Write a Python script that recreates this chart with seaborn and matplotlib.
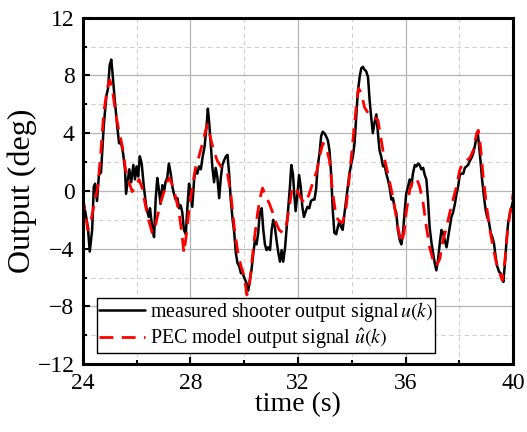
import matplotlib
matplotlib.use("Agg")
import matplotlib.pyplot as plt
import seaborn as sns
from matplotlib.ticker import MultipleLocator

# measured shooter output u(k)
measured_t = [
    24.0, 24.1, 24.19, 24.26, 24.35, 24.41, 24.46, 24.53, 24.6, 24.68, 24.78, 24.88, 24.94,
    25.0, 25.06, 25.1, 25.19, 25.28, 25.35, 25.43, 25.5, 25.57, 25.61, 25.68, 25.73, 25.8,
    25.88, 25.94, 26.0, 26.06, 26.12, 26.19, 26.27, 26.36, 26.45, 26.5, 26.58, 26.65, 26.71,
    26.77, 26.83, 26.89, 26.96, 27.02, 27.08, 27.14, 27.2, 27.27, 27.33, 27.39, 27.45, 27.52,
    27.58, 27.64, 27.7, 27.76, 27.83, 27.89, 27.95, 28.01, 28.07, 28.14, 28.2, 28.26, 28.32,
    28.39, 28.45, 28.53, 28.6, 28.65, 28.7, 28.76, 28.82, 28.88, 28.94, 29.0, 29.07, 29.13,
    29.19, 29.25, 29.32, 29.38, 29.44, 29.5, 29.57, 29.63, 29.69, 29.75, 29.81, 29.88, 29.94,
    30.0, 30.09, 30.15, 30.21, 30.27, 30.34, 30.4, 30.46, 30.52, 30.58, 30.65, 30.71, 30.77,
    30.83, 30.89, 30.96, 31.02, 31.08, 31.14, 31.2, 31.27, 31.33, 31.39, 31.45, 31.52, 31.58,
    31.64, 31.7, 31.75, 31.81, 31.86, 31.91, 31.98, 32.04, 32.1, 32.16, 32.22, 32.29, 32.35,
    32.42, 32.48, 32.55, 32.61, 32.67, 32.73, 32.8, 32.86, 32.92, 32.98, 33.04, 33.11, 33.17,
    33.23, 33.29, 33.35, 33.42, 33.48, 33.54, 33.6, 33.66, 33.73, 33.79, 33.85, 33.91, 33.98,
    34.04, 34.1, 34.16, 34.22, 34.29, 34.35, 34.41, 34.47, 34.53, 34.6, 34.66, 34.72, 34.78,
    34.84, 34.91, 34.97, 35.03, 35.09, 35.16, 35.22, 35.28, 35.34, 35.4, 35.47, 35.53, 35.59,
    35.65, 35.71, 35.78, 35.84, 35.9, 35.96, 36.02, 36.09, 36.15, 36.21, 36.27, 36.34, 36.4,
    36.46, 36.52, 36.58, 36.65, 36.71, 36.77, 36.83, 36.89, 36.96, 37.02, 37.08, 37.14, 37.2,
    37.27, 37.33, 37.39, 37.45, 37.52, 37.58, 37.64, 37.7, 37.76, 37.83, 37.89, 37.95, 38.01,
    38.07, 38.14, 38.2, 38.26, 38.32, 38.39, 38.45, 38.51, 38.57, 38.64, 38.68, 38.72, 38.78,
    38.84, 38.91, 38.97, 39.03, 39.09, 39.16, 39.22, 39.28, 39.34, 39.4, 39.47, 39.53, 39.59,
    39.63, 39.69, 39.75, 39.81, 39.88, 39.94, 40.0,
]
measured_u = [
    -0.6, -1.5, -2.5, -4.2, -2.7, 0.3, 0.5, -0.7, 1.1, 1.3, 4.5, 6.6, 7.1,
    8.7, 9.1, 8.3, 6.3, 4.5, 3.3, 3.3, 2.6, 1.5, -0.2, 0.8, 1.5, 0.6,
    1.8, 0.8, 1.7, 1.0, 2.4, 1.9, 0.3, -1.1, -1.8, -1.2, -2.5, -3.2, -0.6,
    0.9, 0.1, -0.9, 0.4, -0.05, 0.65, 0.9, 1.9, 1.2, 0.3, -0.2, -0.6, -0.5,
    -1.2, -1.0, -1.5, -2.7, -3.0, -1.1, 0.5, -0.2, -1.1, 0.8, 1.5, 1.2, 1.7,
    1.5, 2.3, 3.1, 4.5, 5.7, 4.7, 3.1, 1.6, 0.6, 1.6, 1.0, -0.5, 0.9,
    1.8, 2.1, 2.4, 2.5, 1.2, -0.6, -2.0, -2.9, -4.3, -5.0, -5.2, -5.7, -5.7,
    -6.0, -6.4, -6.9, -6.2, -5.5, -4.3, -3.4, -3.7, -2.9, -1.5, -1.2, -2.7, -3.7,
    -4.1, -3.9, -4.1, -2.7, -2.0, -2.5, -3.4, -4.3, -4.9, -4.1, -4.9, -3.9, -2.5,
    -1.1, 0.3, 1.8, 1.2, -0.2, -1.4, -0.2, 1.1, 0.3, -1.1, -1.8, -1.4, -1.1,
    -1.2, -0.7, -0.6, -0.6, 0.1, 1.7, 2.6, 3.8, 4.1, 4.0, 3.8, 3.5, 2.8,
    1.2, -1.3, -2.9, -3.0, -2.5, -2.1, -2.5, -2.7, -1.5, -0.6, 0.3, 1.2, 1.9,
    2.4, 3.3, 5.1, 6.8, 7.9, 8.5, 8.6, 8.4, 8.3, 7.9, 6.3, 5.1, 4.0,
    4.7, 5.3, 4.0, 2.8, 2.4, 1.7, 1.8, 1.2, 0.8, 0.3, -0.6, -0.5, -1.2,
    -1.5, -2.7, -3.4, -3.7, -2.9, -1.5, -0.2, 0.3, 0.8, 0.3, 1.2, 1.8, 1.7,
    1.9, 1.8, 1.5, 1.6, 1.1, 0.8, -0.6, -2.5, -3.6, -4.3, -5.0, -5.5, -4.8,
    -3.6, -2.7, -2.9, -3.4, -3.9, -3.2, -2.5, -1.8, -1.5, -0.9, -0.2, 0.3, 1.1,
    1.2, 1.2, 1.6, 1.7, 1.8, 2.1, 2.3, 2.6, 3.1, 3.8, 4.0, 3.3, 2.1,
    0.8, -0.4, -1.3, -1.8, -2.1, -2.9, -3.2, -3.6, -4.5, -5.2, -5.6, -5.7, -6.0,
    -6.3, -5.0, -3.4, -2.2, -1.5, -1.1, -0.6,
]

# PEC model output u_hat(k)
model_t = [
    24.0, 24.19, 24.31, 24.43, 24.56, 24.66, 24.78, 24.91, 25.0, 25.09, 25.22, 25.34, 25.47,
    25.59, 25.71, 25.84, 25.96, 26.09, 26.21, 26.34, 26.46, 26.58, 26.67, 26.77, 26.89, 27.02,
    27.14, 27.23, 27.33, 27.45, 27.58, 27.68, 27.76, 27.86, 27.95, 28.07, 28.2, 28.32, 28.45,
    28.57, 28.63, 28.73, 28.88, 29.0, 29.13, 29.25, 29.38, 29.5, 29.63, 29.75, 29.88, 30.0,
    30.1, 30.19, 30.27, 30.37, 30.5, 30.6, 30.68, 30.81, 30.93, 31.06, 31.18, 31.3, 31.43,
    31.55, 31.68, 31.76, 31.86, 31.99, 32.11, 32.24, 32.34, 32.46, 32.58, 32.71, 32.83, 32.92,
    33.04, 33.17, 33.29, 33.42, 33.54, 33.66, 33.79, 33.91, 34.04, 34.16, 34.25, 34.35, 34.47,
    34.6, 34.72, 34.84, 34.97, 35.07, 35.19, 35.34, 35.47, 35.59, 35.71, 35.84, 35.94, 36.02,
    36.15, 36.27, 36.4, 36.52, 36.65, 36.77, 36.89, 37.02, 37.14, 37.27, 37.39, 37.52, 37.64,
    37.76, 37.89, 38.01, 38.14, 38.26, 38.39, 38.51, 38.64, 38.7, 38.78, 38.88, 39.01, 39.13,
    39.25, 39.37, 39.5, 39.59, 39.69, 39.78, 39.88, 40.0,
]
model_u = [
    -0.4, -2.7, -2.0, -0.9, 0.3, 2.4, 5.4, 7.1, 7.7, 7.2, 5.4, 4.2, 3.1,
    1.5, 0.65, -0.05, 0.3, 0.8, 0.2, -1.1, -2.1, -2.9, -2.7, -1.8, -0.85, -0.05,
    0.65, 0.9, 0.4, -0.4, -1.5, -2.9, -4.3, -2.9, -1.3, 0.3, 1.7, 2.4, 3.3,
    4.2, 4.6, 3.8, 2.7, 2.1, 1.7, 1.5, 1.2, -0.15, -2.5, -4.1, -5.2, -5.9,
    -7.2, -6.6, -5.2, -3.4, -1.5, -0.4, 0.2, -0.4, -0.85, -1.5, -2.2, -2.7, -2.9,
    -2.5, -1.1, -0.05, 0.3, -0.05, -0.5, -0.85, -0.6, 0.05, 0.75, 1.45, 2.6, 3.3,
    3.1, 2.1, -0.15, -1.8, -2.1, -2.2, -1.1, 1.0, 3.5, 5.8, 7.1, 6.8, 5.8,
    5.4, 5.3, 5.1, 4.9, 3.8, 2.4, 1.2, 0.05, -1.1, -2.5, -3.6, -2.9, -1.5,
    0.05, 0.75, 0.9, 0.3, -0.85, -2.5, -3.9, -4.8, -5.2, -4.7, -3.4, -2.5, -1.5,
    -0.6, 0.3, 1.45, 2.0, 2.1, 2.3, 2.8, 4.0, 4.2, 3.1, 1.0, -1.1, -2.7,
    -3.9, -5.0, -5.7, -6.2, -4.8, -2.9, -1.5, -0.15,
]

x_ticks = [24, 28, 32, 36, 40]
y_ticks = [-12, -8, -4, 0, 4, 8, 12]
labels = [
    "measured shooter output signal$\\,u(k)$",
    "PEC model output signal $\\hat{u}(k)$",
]

sns.set_style("ticks")
plt.rcParams["font.family"] = ["Liberation Serif", "DejaVu Serif"]
plt.rcParams["mathtext.fontset"] = "stix"
plt.rcParams["text.color"] = "black"
plt.rcParams["axes.labelcolor"] = "black"
plt.rcParams["xtick.color"] = "black"
plt.rcParams["ytick.color"] = "black"

fig = plt.figure(figsize=(5.27, 4.32), dpi=100)
ax = fig.add_axes([0.157, 0.157, 0.817, 0.802])

sns.lineplot(x=measured_t, y=measured_u, ax=ax, color="black", linewidth=1.8,
             label=labels[0], sort=False)
sns.lineplot(x=model_t, y=model_u, ax=ax, color="#ff0000", linewidth=2.0,
             dashes=False, label=labels[1], sort=False)
ax.lines[1].set_dashes([5, 3])

ax.set_xlim(24, 40)
ax.set_ylim(-12, 12)
ax.set_xticks(x_ticks)
ax.set_yticks(y_ticks)
ax.xaxis.set_minor_locator(MultipleLocator(2))
ax.yaxis.set_minor_locator(MultipleLocator(2))
ax.set_yticklabels(["\u221212", "\u22128", "\u22124", "0", "4", "8", "12"])

ax.grid(which="major", color="#b5b5b5", linewidth=0.9, linestyle="-")
ax.grid(which="minor", color="#d0d0d0", linewidth=0.8, linestyle=(0, (4, 3)))
ax.set_axisbelow(True)

ax.tick_params(which="both", direction="in", top=False, right=False,
               labelsize=17, width=1.5, colors="black")
ax.tick_params(which="major", length=5, pad=6)
ax.tick_params(which="minor", length=3)
for side in ax.spines.values():
    side.set_linewidth(2.2)
    side.set_color("black")

ax.set_xlabel("time (s)", fontsize=20, labelpad=-1)
ax.set_ylabel("Output (deg)", fontsize=23, labelpad=0)

leg = ax.legend(loc="lower left", bbox_to_anchor=(0.033, 0.032), fontsize=14.3,
                frameon=True, fancybox=False, edgecolor="black", framealpha=1,
                borderpad=0.1, handlelength=2.3, handletextpad=0.25,
                labelspacing=0.12, borderaxespad=0)
leg.get_frame().set_linewidth(1.0)

fig.savefig("out.png", dpi=100)
